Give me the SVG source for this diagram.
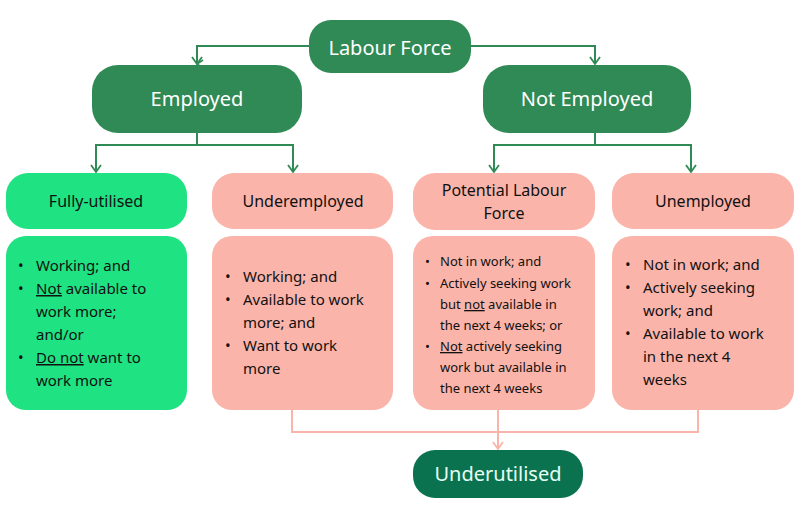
<svg xmlns="http://www.w3.org/2000/svg" width="800" height="521" viewBox="0 0 800 521">
<style>
text{font-family:"Noto Sans","Liberation Sans",sans-serif}
.dk{fill:#2f8a55}.gr{fill:#1fe282}.pk{fill:#fbb4aa}
.wt{fill:#fff;font-size:20px;text-anchor:middle}
.h{fill:#111;font-size:16px;text-anchor:middle}
.b{fill:#111;font-size:15px}
.s{fill:#111;font-size:13px}
.g{stroke:#2f8a55;stroke-width:2;fill:none}
.p{stroke:#fbb4aa;stroke-width:2;fill:none}
</style>
<defs>
<marker id="ag" viewBox="0 0 10 10" refX="5" refY="8" markerWidth="10" markerHeight="10" markerUnits="userSpaceOnUse" orient="auto-start-reverse"><path d="M1,2 L5,8 L9,2" fill="none" stroke="#2f8a55" stroke-width="1.6"/></marker>
<marker id="ap" viewBox="0 0 10 10" refX="5" refY="8" markerWidth="10" markerHeight="10" markerUnits="userSpaceOnUse"><path d="M1,2 L5,8 L9,2" fill="none" stroke="#fbb4aa" stroke-width="1.6"/></marker>
</defs>
<g id="connectors">
<path class="g" d="M310,46 H197 V64" marker-end="url(#ag)" transform="rotate(0)"/>
<path class="g" d="M470,46 H595 V64"/>
<path class="g" d="M197,133 V145 H96 V172"/>
<path class="g" d="M197,145 H293 V172"/>
<path class="g" d="M595,133 V145 H494 V172"/>
<path class="g" d="M595,145 H691 V172"/>
<path class="p" d="M292,410 V432 H698 V410"/>
<path class="p" d="M498,410 V449"/>
</g>
<g fill="none" stroke="#2f8a55" stroke-width="1.8">
<path d="M192,57 L197,64 L202,57"/><path d="M590,57 L595,64 L600,57"/>
<path d="M91,165 L96,172 L101,165"/><path d="M288,165 L293,172 L298,165"/>
<path d="M489,165 L494,172 L499,165"/><path d="M686,165 L691,172 L696,165"/>
</g>
<path d="M493,442 L498,449 L503,442" fill="none" stroke="#fbb4aa" stroke-width="1.8"/>
<g id="labour-force"><rect class="dk" x="309" y="20" width="162" height="53" rx="22"/><text class="wt" x="390" y="55">Labour Force</text></g>
<g id="employed"><rect class="dk" x="92" y="65" width="210" height="68" rx="26"/><text class="wt" x="197" y="106">Employed</text></g>
<g id="not-employed"><rect class="dk" x="483" y="65" width="208" height="68" rx="26"/><text class="wt" x="587" y="106">Not Employed</text></g>
<g id="fully-utilised"><rect class="gr" x="6" y="173" width="181" height="56" rx="22"/><text class="h" x="96" y="207">Fully-utilised</text></g>
<g id="underemployed"><rect class="pk" x="212" y="173" width="181" height="56" rx="22"/><text class="h" x="303" y="207">Underemployed</text></g>
<g id="potential"><rect class="pk" x="413" y="173" width="182" height="57" rx="22"/><text class="h" x="504" y="196">Potential Labour</text><text class="h" x="504" y="219">Force</text></g>
<g id="unemployed"><rect class="pk" x="612" y="173" width="182" height="56" rx="22"/><text class="h" x="703" y="207">Unemployed</text></g>
<g id="fully-detail"><rect class="gr" x="6" y="236" width="181" height="174" rx="20"/>
<text class="b"><tspan x="18" y="271">•</tspan><tspan x="36">Working; and</tspan>
<tspan x="18" y="294">•</tspan><tspan x="36" text-decoration="underline">Not</tspan><tspan> available to</tspan>
<tspan x="36" y="317">work more;</tspan>
<tspan x="36" y="340">and/or</tspan>
<tspan x="18" y="363">•</tspan><tspan x="36" text-decoration="underline">Do not</tspan><tspan> want to</tspan>
<tspan x="36" y="386">work more</tspan></text></g>
<g id="under-detail"><rect class="pk" x="212" y="236" width="181" height="174" rx="20"/>
<text class="b"><tspan x="225" y="282">•</tspan><tspan x="243">Working; and</tspan>
<tspan x="225" y="305">•</tspan><tspan x="243">Available to work</tspan>
<tspan x="243" y="328">more; and</tspan>
<tspan x="225" y="351">•</tspan><tspan x="243">Want to work</tspan>
<tspan x="243" y="374">more</tspan></text></g>
<g id="potential-detail"><rect class="pk" x="413" y="236" width="182" height="174" rx="20"/>
<text class="s"><tspan x="425" y="266">•</tspan><tspan x="440">Not in work; and</tspan>
<tspan x="425" y="288">•</tspan><tspan x="440">Actively seeking work</tspan>
<tspan x="440" y="309">but </tspan><tspan text-decoration="underline">not</tspan><tspan> available in</tspan>
<tspan x="440" y="330">the next 4 weeks; or</tspan>
<tspan x="425" y="351">•</tspan><tspan x="440" text-decoration="underline">Not</tspan><tspan> actively seeking</tspan>
<tspan x="440" y="372">work but available in</tspan>
<tspan x="440" y="393">the next 4 weeks</tspan></text></g>
<g id="unemployed-detail"><rect class="pk" x="612" y="236" width="182" height="174" rx="20"/>
<text class="b"><tspan x="625" y="270">•</tspan><tspan x="643">Not in work; and</tspan>
<tspan x="625" y="293">•</tspan><tspan x="643">Actively seeking</tspan>
<tspan x="643" y="316">work; and</tspan>
<tspan x="625" y="339">•</tspan><tspan x="643">Available to work</tspan>
<tspan x="643" y="362">in the next 4</tspan>
<tspan x="643" y="385">weeks</tspan></text></g>
<g id="underutilised"><rect x="413" y="450" width="170" height="48" rx="22" fill="#0b7250"/><text class="wt" x="498" y="481" style="fill:#e6fff4">Underutilised</text></g>
</svg>
